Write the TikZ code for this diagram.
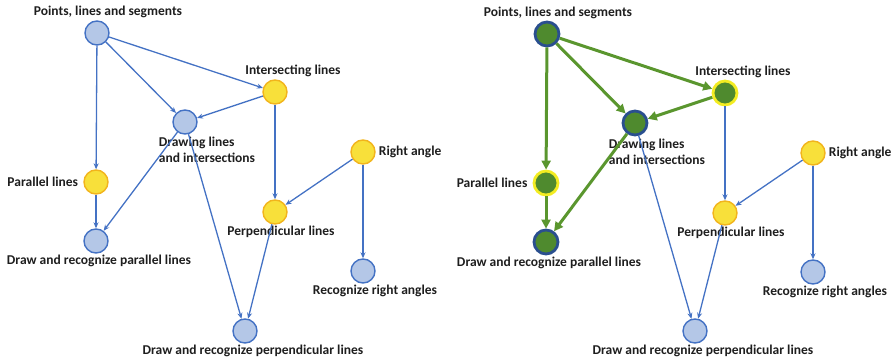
\documentclass[tikz,border=0pt]{standalone}
\usepackage{fontspec}
\setmainfont{Carlito}
\usetikzlibrary{positioning,arrows.meta}
\definecolor{kmink}{HTML}{1E1E1E}
\definecolor{kmsky}{HTML}{B4C7E7}
\definecolor{kmedge}{HTML}{4472C4}
\definecolor{kmnavy}{HTML}{2A4F8F}
\definecolor{kmyellow}{HTML}{F8E03A}
\definecolor{kmamber}{HTML}{F2B41C}
\definecolor{kmlemon}{HTML}{F3EC22}
\definecolor{kmgreen}{HTML}{4F8A2E}
\definecolor{kmleaf}{HTML}{5A962E}
\tikzset{
  km/.style={circle, minimum size=24pt, inner sep=0pt, line width=1.4pt},
  km todo/.style={km, draw=kmedge, fill=kmsky},
  km base/.style={km, draw=kmamber, fill=kmyellow},
  km done/.style={km, draw=kmnavy, fill=kmgreen, line width=2.8pt},
  km known/.style={km, draw=kmlemon, fill=kmgreen, line width=2.8pt},
  km arr/.style={-{Stealth[length=6pt, width=5pt]}, line width=1.3pt, kmedge},
  km path/.style={-{Triangle[length=9pt, width=9pt]}, line width=3pt, kmleaf},
  km lab/.style={font=\fontsize{13.5}{16}\selectfont\bfseries, text=kmink, inner sep=1pt, align=center},
}

\begin{document}
\begin{tikzpicture}[x=1pt, y=1pt]
  \useasboundingbox (0,0) rectangle (893,-358);

  % left: the whole map
  \node[km todo] (lp) at (97,-33) {};
  \node[km base] (li) at (275,-92) {};
  \node[km todo] (ld) at (185,-122) {};
  \node[km base] (lr) at (363,-152) {};
  \node[km base] (lpl) at (96,-182) {};
  \node[km base] (lpe) at (275,-212) {};
  \node[km todo] (ldp) at (96,-241) {};
  \node[km todo] (lrr) at (363,-271) {};
  \node[km todo] (ldpp) at (245,-331) {};
  \node[km lab, above=1pt of lp, xshift=11pt] (lp lab) {Points, lines and segments};
  \node[km lab, above=1pt of li, xshift=18pt] (li lab) {Intersecting lines};
  \node[km lab, align=left, below=1pt of ld, xshift=22pt] (ld lab) {Drawing lines\\and intersections};
  \node[km lab, right=2pt of lr] (lr lab) {Right angle};
  \node[km lab, left=4pt of lpl] (lpl lab) {Parallel lines};
  \node[km lab, below=0pt of lpe, xshift=6pt] (lpe lab) {Perpendicular lines};
  \node[km lab, below=0pt of ldp, xshift=3pt] (ldp lab) {Draw and recognize parallel lines};
  \node[km lab, below=0pt of lrr, xshift=12pt] (lrr lab) {Recognize right angles};
  \node[km lab, below=0pt of ldpp, xshift=8pt] (ldpp lab) {Draw and recognize perpendicular lines};
  \foreach \a/\b in {lp/li, lp/ld, lp/lpl, li/ld, li/lpe, ld/ldp, ld/ldpp, lpl/ldp, lr/lpe, lr/lrr, lpe/ldpp}
    \draw[km arr] (\a) -- (\b);

  % right: path to parallel lines
  \begin{scope}[xshift=450pt, yshift=-1pt]
  \node[km done] (rp) at (97,-33) {};
  \node[km known] (ri) at (275,-92) {};
  \node[km done] (rd) at (185,-122) {};
  \node[km base] (rr) at (363,-152) {};
  \node[km known] (rpl) at (96,-182) {};
  \node[km base] (rpe) at (275,-212) {};
  \node[km done] (rdp) at (96,-241) {};
  \node[km todo] (rrr) at (363,-271) {};
  \node[km todo] (rdpp) at (245,-330) {};
  \node[km lab, above=1pt of rp, xshift=11pt] (rp lab) {Points, lines and segments};
  \node[km lab, above=1pt of ri, xshift=18pt] (ri lab) {Intersecting lines};
  \node[km lab, align=left, below=1pt of rd, xshift=22pt] (rd lab) {Drawing lines\\and intersections};
  \node[km lab, right=2pt of rr] (rr lab) {Right angle};
  \node[km lab, left=4pt of rpl] (rpl lab) {Parallel lines};
  \node[km lab, below=0pt of rpe, xshift=6pt] (rpe lab) {Perpendicular lines};
  \node[km lab, below=0pt of rdp, xshift=3pt] (rdp lab) {Draw and recognize parallel lines};
  \node[km lab, below=0pt of rrr, xshift=12pt] (rrr lab) {Recognize right angles};
  \node[km lab, below=0pt of rdpp, xshift=8pt] (rdpp lab) {Draw and recognize perpendicular lines};
  \foreach \a/\b in {ri/rpe, rd/rdpp, rr/rpe, rr/rrr, rpe/rdpp}
    \draw[km arr] (\a) -- (\b);
  \foreach \a/\b in {rp/ri, rp/rd, rp/rpl, ri/rd, rd/rdp, rpl/rdp}
    \draw[km path] (\a) -- (\b);
  \end{scope}
\end{tikzpicture}
\end{document}
